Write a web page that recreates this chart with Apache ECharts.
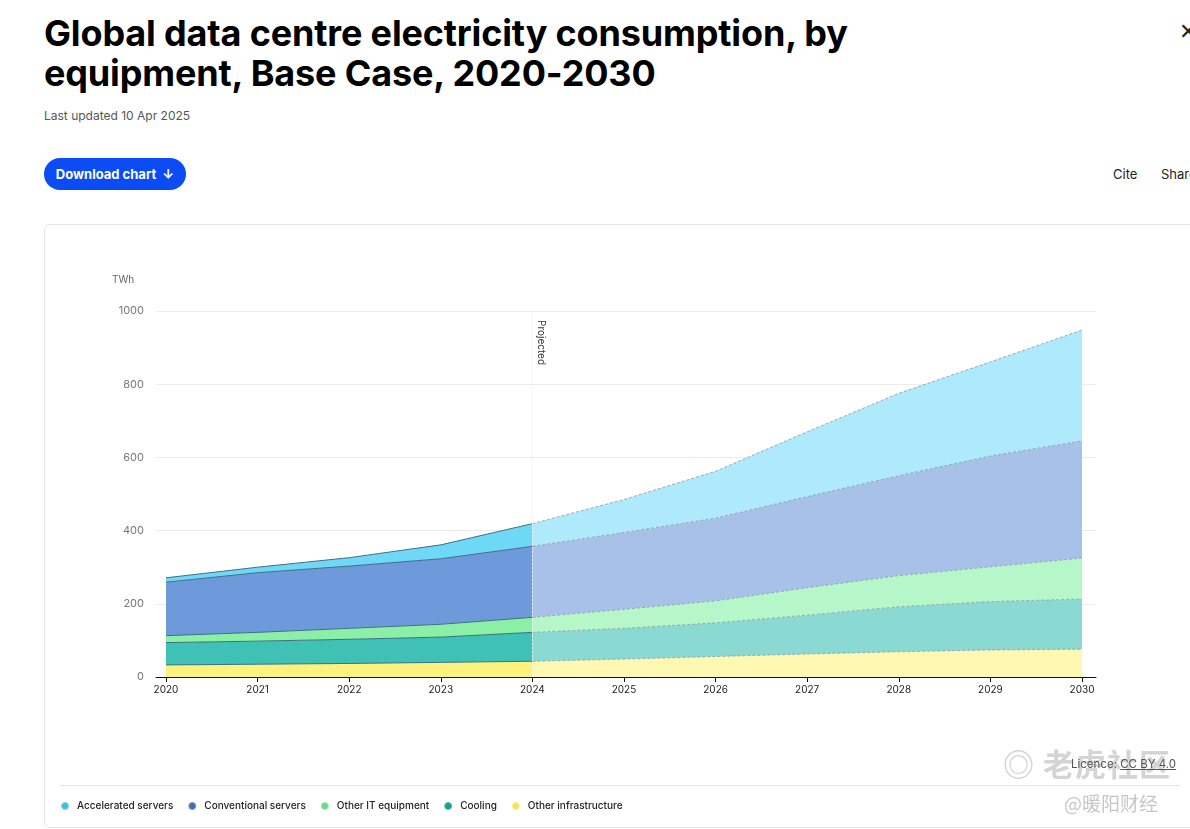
<!DOCTYPE html>
<html>
<head>
<meta charset="utf-8">
<script src="https://cdn.jsdelivr.net/npm/echarts@6/dist/echarts.min.js"></script>
<style>
  html, body { margin:0; padding:0; background:#fff; width:1190px; height:829px; overflow:hidden; font-family: Inter, "Noto Sans", sans-serif; }
  .abs { position:absolute; }
  #title { left:44px; top:13px; width:900px; font-size:36px; font-weight:700; line-height:40px; color:#000; letter-spacing:-0.15px; }
  #updated { left:44px; top:108px; font-size:12px; color:#555; }
  #dl { left:44px; top:158px; width:142px; height:32px; border-radius:16px; background:#0b4cf6; color:#fff; font-size:13px; font-weight:700; line-height:32px; text-align:center; }
  #cite { left:1113px; top:166px; font-size:13px; color:#222; }
  #share { left:1161px; top:166px; font-size:13px; color:#222; }
  #close { left:1179px; top:18px; font-size:22px; color:#222; }
  #card { left:44px; top:224px; width:1180px; height:602px; border:1px solid #e6e6e6; border-radius:6px; }
  #sep { left:60px; top:785px; width:1120px; height:1px; background:#e4e4e4; }
  #lic { left:1071px; top:757px; font-size:11.5px; color:#555; }
  #lic u { text-decoration: underline; }
  #wm1 { left:1003px; top:740px; font-size:31px; color:rgba(160,160,160,0.45); font-family:"Noto Sans CJK SC"; font-weight:700; letter-spacing:1px; }
  #wm2 { left:1064px; top:789px; font-size:19px; color:rgba(160,160,160,0.6); font-family:"Noto Sans CJK SC"; }
  #chart { left:45px; top:225px; width:1145px; height:603px; }
</style>
</head>
<body>
<div id="title" class="abs">Global data centre electricity consumption, by equipment, Base Case, 2020-2030</div>
<div id="updated" class="abs">Last updated 10 Apr 2025</div>
<div id="dl" class="abs">Download chart &nbsp;↓</div>
<div id="cite" class="abs">Cite</div>
<div id="share" class="abs">Share</div>
<div id="close" class="abs">✕</div>
<div id="card" class="abs"></div>
<div id="chart" class="abs"></div>
<div id="sep" class="abs"></div>
<div id="wm1" class="abs">◎ 老虎社区</div>
<div id="lic" class="abs">Licence: <u>CC BY 4.0</u></div>
<div id="wm2" class="abs">@暖阳财经</div>
<script>
const years = ['2020', '2021', '2022', '2023', '2024', '2025', '2026', '2027', '2028', '2029', '2030'];
const otherInfrastructure = [33, 35, 37, 40, 43, 49, 56, 63, 69, 74, 76];
const cooling = [61, 63, 66, 69, 79, 84, 92, 106, 123, 132, 137];
const otherIT = [19, 24, 30, 35, 41, 52, 60, 75, 85, 95, 112];
const conventionalServers = [146, 163, 170, 179, 194, 210, 226, 249, 273, 303, 320];
const acceleratedServers = [12, 15, 23, 38, 62, 90, 128, 177, 225, 257, 303];
const projectedFrom = '2024';
const yTicks = [0, 200, 400, 600, 800, 1000];

const seriesDefs = [
  { name: 'Other infrastructure', data: otherInfrastructure, hist: '#fdf27e', proj: '#fff8b2', legend: '#f3e35e' },
  { name: 'Cooling', data: cooling, hist: '#3fc1b6', proj: '#8ad9d2', legend: '#1f9b8f' },
  { name: 'Other IT equipment', data: otherIT, hist: '#8bf0a6', proj: '#b6f7ca', legend: '#6fd694' },
  { name: 'Conventional servers', data: conventionalServers, hist: '#6e9adb', proj: '#a7c1e9', legend: '#4a67b4' },
  { name: 'Accelerated servers', data: acceleratedServers, hist: '#6fd8f7', proj: '#aeeafb', legend: '#4bb8e0' }
];

const splitIdx = years.indexOf(projectedFrom);
const series = [];
seriesDefs.forEach(d => {
  series.push({
    name: d.name, type: 'line', stack: 'hist', showSymbol: false, symbol: 'none',
    xAxisIndex: 0, yAxisIndex: 0,
    data: d.data.map((v, i) => (i <= splitIdx ? v : '-')),
    lineStyle: { color: '#3d6f84', width: 1 },
    areaStyle: { color: d.hist, opacity: 1 },
    itemStyle: { color: d.legend },
    z: 2
  });
});
seriesDefs.forEach((d, k) => {
  const s = {
    name: d.name, type: 'line', stack: 'proj', showSymbol: false, symbol: 'none',
    xAxisIndex: 0, yAxisIndex: 0,
    data: d.data.map((v, i) => (i >= splitIdx ? v : '-')),
    lineStyle: { color: '#8a98a2', width: 0.8, type: [3, 2] },
    areaStyle: { color: d.proj, opacity: 1 },
    itemStyle: { color: d.legend },
    z: 2
  };
  if (k === seriesDefs.length - 1) {
    s.markLine = {
      silent: true, symbol: 'none',
      lineStyle: { color: '#efefef', type: [2, 2], width: 1 },
      label: { show: true, formatter: 'Projected', position: 'insideStartTop', color: '#333', fontSize: 10, fontFamily: 'Inter', distance: [9, 4] },
      data: [[{ coord: [projectedFrom, yTicks[yTicks.length - 1]] }, { coord: [projectedFrom, 0] }]]
    };
  }
  series.push(s);
});

const legendOrder = ['Accelerated servers', 'Conventional servers', 'Other IT equipment', 'Cooling', 'Other infrastructure'];
const legendData = legendOrder.map(n => {
  const d = seriesDefs.find(x => x.name === n);
  return { name: n, itemStyle: { color: d.legend, borderColor: d.hist, borderWidth: 1 } };
});

const yMin = yTicks[0], yMax = yTicks[yTicks.length - 1], yStep = yTicks[1] - yTicks[0];
const chart = echarts.init(document.getElementById('chart'));
chart.setOption({
  animation: false,
  title: { text: 'TWh', left: 67, top: 50, padding: 0, textStyle: { fontSize: 10, color: '#666', fontWeight: 'normal', fontFamily: 'Inter' } },
  grid: [
    { left: 121, top: 86, width: 916, height: 366 },
    { left: 111, top: 86, width: 940, height: 366 }
  ],
  legend: {
    data: legendData, left: 16, top: 576, padding: 0, icon: 'circle', itemWidth: 14, itemHeight: 7, itemGap: 15,
    textStyle: { fontSize: 10, color: '#222', fontFamily: 'Inter', fontWeight: 500 }
  },
  xAxis: [
    {
      gridIndex: 0, type: 'category', data: years, boundaryGap: false,
      axisLine: { show: false },
      axisTick: { show: true, length: 5, lineStyle: { color: '#111' } },
      axisLabel: { color: '#222', fontSize: 10, fontFamily: 'Inter', margin: 8 },
      splitLine: { show: false }
    },
    {
      gridIndex: 1, type: 'value', min: 0, max: 1, z: 5,
      axisLine: { show: true, lineStyle: { color: '#111', width: 1 } },
      axisTick: { show: false }, axisLabel: { show: false }, splitLine: { show: false }
    }
  ],
  yAxis: [
    {
      gridIndex: 0, type: 'value', min: yMin, max: yMax, interval: yStep,
      axisLine: { show: false }, axisTick: { show: false }, axisLabel: { show: false }, splitLine: { show: false }
    },
    {
      gridIndex: 1, type: 'value', min: yMin, max: yMax, interval: yStep, z: 0,
      axisLine: { show: false }, axisTick: { show: false },
      axisLabel: { color: '#777', fontSize: 11, fontFamily: 'Inter', margin: 12, formatter: v => String(v) },
      splitLine: { lineStyle: { color: '#ececec', width: 1 } }
    }
  ],
  series: series
});
</script>
</body>
</html>
